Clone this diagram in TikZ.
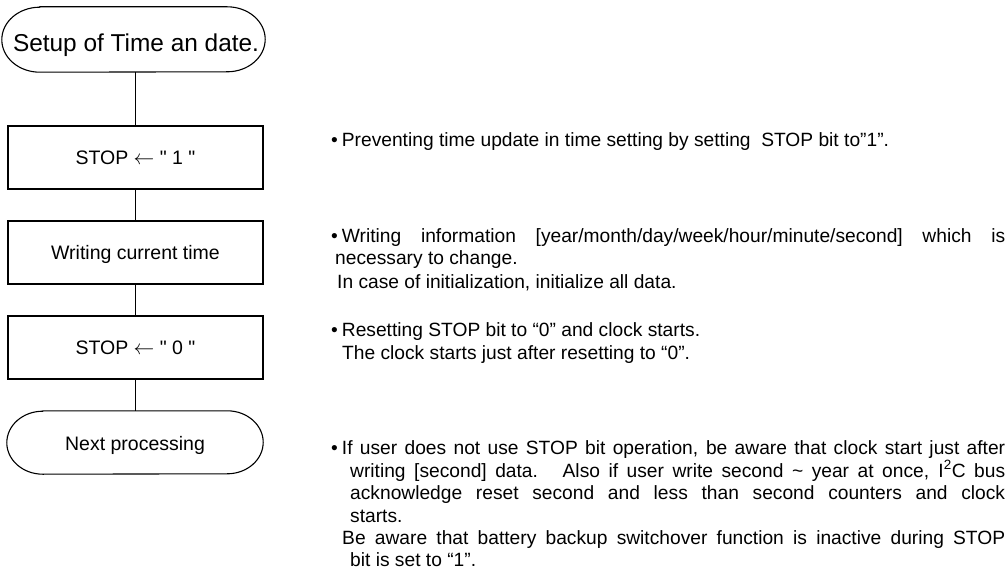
\documentclass[tikz,border=0pt]{standalone}
\usepackage{fontspec}
\setmainfont{Liberation Sans}
\newcommand{\sq}{\XeTeXglyph\XeTeXglyphindex "quotedbl"\relax}
\begin{document}
\begin{tikzpicture}[x=1pt,y=-1pt,
  flow/.style={line width=1.1pt},
  box/.style={draw, line width=1.1pt, minimum width=255pt, minimum height=63pt, inner sep=0pt,
    font=\fontsize{19.5}{22}\selectfont, text height=14pt, text depth=0pt},
  termbox/.style={inner sep=0pt},
  termtext/.style={inner sep=0pt, anchor=base},
  note/.style={inner sep=0pt, anchor=base west, font=\fontsize{19.2}{22.5}\selectfont}
]
\useasboundingbox (0,0) rectangle (1007,572);

% start terminal
\node[termbox, minimum width=263pt, minimum height=65pt] (t1) at (133.5,39.5) {};
\draw[flow] ([xshift=38pt]t1.north west) -- ([xshift=-38pt]t1.north east)
  arc[start angle=90, end angle=-90, x radius=38pt, y radius=32.5pt]
  -- ([xshift=38pt]t1.south west)
  arc[start angle=270, end angle=90, x radius=38pt, y radius=32.5pt] -- cycle;
\node[termtext, font=\fontsize{24.4}{27}\selectfont] (t1txt) at (136,51.7) {Setup of Time an date.};

% process boxes
\node[box] (b1) at (135.5,157.5) {STOP $\leftarrow$ \sq\ 1 \sq};
\node[box] (b2) at (135.5,252.5) {Writing current time};
\node[box] (b3) at (135.5,347.5) {STOP $\leftarrow$ \sq\ 0 \sq};

% end terminal
\node[termbox, minimum width=256pt, minimum height=63pt] (t2) at (135,442.5) {};
\draw[flow] ([xshift=36pt]t2.north west) -- ([xshift=-36pt]t2.north east)
  arc[start angle=90, end angle=-90, x radius=36pt, y radius=31.5pt]
  -- ([xshift=36pt]t2.south west)
  arc[start angle=270, end angle=90, x radius=36pt, y radius=31.5pt] -- cycle;
\node[termtext, font=\fontsize{19.5}{22}\selectfont] (t2txt) at (135,450) {Next processing};

% connectors
\draw[flow] (b1.north |- t1.south) -- (b1.north);
\draw[flow] (b1.south) -- (b2.north);
\draw[flow] (b2.south) -- (b3.north);
\draw[flow] (b3.south) -- (t2.north -| b3.south);

% notes
\node[note] (n1) at (331,147) {\textbullet\hspace{4pt}Preventing time update in time setting by setting\ \ STOP bit to”1”.};

\node[note] (n2a) at (331,243) {\makebox[674pt][s]{\textbullet\hspace{4pt}Writing information [year/month/day/week/hour/minute/second] which is}};
\node[note] (n2b) at (335,265) {necessary to change.};
\node[note] (n2c) at (337,288) {In case of initialization, initialize all data.};

\node[note] (n3a) at (331,336) {\textbullet\hspace{4pt}Resetting STOP bit to “0” and clock starts.};
\node[note] (n3b) at (342,359) {The clock starts just after resetting to “0”.};

\node[note] (n4a) at (331,454) {\makebox[674pt][s]{\textbullet\hspace{4pt}If user does not use STOP bit operation, be aware that clock start just after}};
\node[note] (n4b) at (350,477) {\makebox[655pt][s]{writing [second] data.\hspace{8pt} Also if user write second \textasciitilde\ year at once, I\textsuperscript{2}C bus}};
\node[note] (n4c) at (350,499) {\makebox[655pt][s]{acknowledge reset second and less than second counters and clock}};
\node[note] (n4d) at (350,522) {starts.};
\node[note] (n4e) at (342,544) {\makebox[663pt][s]{Be aware that battery backup switchover function is inactive during STOP}};
\node[note] (n4f) at (350,566) {bit is set to “1”.};
\end{tikzpicture}
\end{document}
